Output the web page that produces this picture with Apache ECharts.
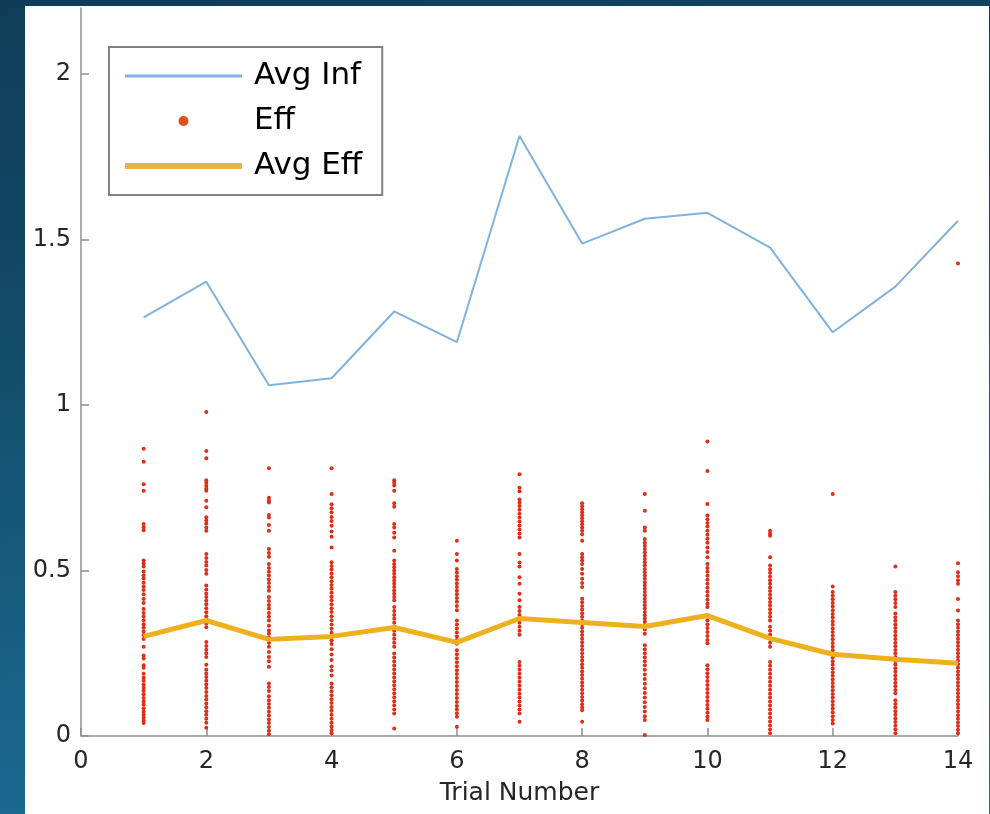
<!DOCTYPE html>
<html>
<head>
<meta charset="utf-8">
<script src="https://cdn.jsdelivr.net/npm/echarts@6/dist/echarts.min.js"></script>
<style>
  html, body { margin: 0; padding: 0; width: 990px; height: 814px; overflow: hidden; }
  body { background: linear-gradient(172deg, #0f3d58 0%, #124865 30%, #185d81 65%, #1e7199 100%); position: relative; }
  #chart { position: absolute; left: 25px; top: 6px; width: 964px; height: 808px; background: #ffffff; }
</style>
</head>
<body>
<div id="chart"></div>
<script>
// Trials on the x axis
const trials = [1, 2, 3, 4, 5, 6, 7, 8, 9, 10, 11, 12, 13, 14];

// Average influence per trial
const avgInf = [1.265, 1.373, 1.060, 1.081, 1.283, 1.190, 1.813, 1.488, 1.563, 1.581, 1.476, 1.220, 1.358, 1.557];

// Average efficiency per trial
const avgEff = [0.301, 0.349, 0.292, 0.301, 0.328, 0.283, 0.355, 0.343, 0.331, 0.364, 0.295, 0.247, 0.232, 0.220];

// Individual efficiency values, one array per trial
const eff01 = [0.868, 0.829, 0.761, 0.741, 0.641, 0.631, 0.622, 0.530, 0.521, 0.512, 0.497, 0.486, 0.476, 0.463, 0.452, 0.441, 0.428, 0.414, 0.402, 0.384, 0.372, 0.361, 0.350, 0.338, 0.327, 0.316, 0.305, 0.293, 0.270, 0.243, 0.234, 0.214, 0.206, 0.188, 0.176, 0.167, 0.156, 0.146, 0.137, 0.126, 0.115, 0.104, 0.095, 0.084, 0.073, 0.064, 0.055, 0.046, 0.039];
const eff02 = [0.979, 0.861, 0.839, 0.773, 0.765, 0.756, 0.748, 0.741, 0.711, 0.691, 0.661, 0.651, 0.642, 0.630, 0.620, 0.550, 0.538, 0.526, 0.515, 0.502, 0.490, 0.455, 0.443, 0.431, 0.420, 0.409, 0.398, 0.386, 0.374, 0.362, 0.351, 0.340, 0.329, 0.284, 0.272, 0.261, 0.250, 0.239, 0.215, 0.200, 0.189, 0.178, 0.167, 0.156, 0.145, 0.133, 0.121, 0.110, 0.098, 0.087, 0.075, 0.064, 0.052, 0.040, 0.025];
const eff03 = [0.809, 0.720, 0.712, 0.706, 0.668, 0.660, 0.638, 0.620, 0.565, 0.553, 0.542, 0.520, 0.508, 0.496, 0.485, 0.473, 0.462, 0.450, 0.439, 0.420, 0.408, 0.396, 0.385, 0.372, 0.360, 0.349, 0.333, 0.319, 0.309, 0.298, 0.282, 0.270, 0.254, 0.239, 0.226, 0.209, 0.159, 0.148, 0.136, 0.120, 0.108, 0.097, 0.085, 0.073, 0.062, 0.050, 0.039, 0.027, 0.016, 0.005];
const eff04 = [0.809, 0.731, 0.700, 0.688, 0.676, 0.662, 0.650, 0.635, 0.618, 0.602, 0.570, 0.525, 0.514, 0.503, 0.491, 0.480, 0.468, 0.456, 0.445, 0.433, 0.421, 0.410, 0.398, 0.386, 0.375, 0.362, 0.350, 0.337, 0.324, 0.312, 0.300, 0.289, 0.278, 0.262, 0.246, 0.230, 0.210, 0.198, 0.183, 0.159, 0.147, 0.135, 0.123, 0.111, 0.100, 0.088, 0.076, 0.064, 0.052, 0.040, 0.029, 0.018, 0.008];
const eff05 = [0.773, 0.765, 0.757, 0.741, 0.703, 0.693, 0.641, 0.630, 0.614, 0.600, 0.560, 0.530, 0.520, 0.510, 0.500, 0.490, 0.480, 0.470, 0.460, 0.450, 0.440, 0.430, 0.420, 0.410, 0.390, 0.378, 0.366, 0.354, 0.342, 0.330, 0.318, 0.306, 0.294, 0.282, 0.270, 0.249, 0.237, 0.225, 0.213, 0.201, 0.189, 0.177, 0.165, 0.153, 0.141, 0.129, 0.117, 0.105, 0.093, 0.080, 0.068, 0.023];
const eff06 = [0.590, 0.550, 0.530, 0.505, 0.494, 0.483, 0.472, 0.461, 0.450, 0.439, 0.428, 0.417, 0.406, 0.393, 0.380, 0.349, 0.337, 0.325, 0.313, 0.301, 0.290, 0.279, 0.259, 0.247, 0.235, 0.223, 0.211, 0.199, 0.187, 0.175, 0.163, 0.151, 0.139, 0.127, 0.115, 0.103, 0.091, 0.080, 0.069, 0.058, 0.028];
const eff07 = [0.791, 0.750, 0.740, 0.715, 0.705, 0.695, 0.684, 0.672, 0.660, 0.648, 0.636, 0.624, 0.612, 0.600, 0.550, 0.524, 0.512, 0.480, 0.460, 0.430, 0.410, 0.390, 0.378, 0.366, 0.354, 0.342, 0.330, 0.318, 0.306, 0.224, 0.212, 0.200, 0.188, 0.176, 0.164, 0.152, 0.140, 0.128, 0.116, 0.104, 0.092, 0.080, 0.068, 0.043];
const eff08 = [0.703, 0.694, 0.685, 0.676, 0.667, 0.658, 0.649, 0.640, 0.630, 0.620, 0.610, 0.590, 0.550, 0.540, 0.530, 0.520, 0.505, 0.490, 0.475, 0.462, 0.450, 0.415, 0.404, 0.393, 0.382, 0.371, 0.360, 0.349, 0.338, 0.327, 0.316, 0.305, 0.294, 0.283, 0.272, 0.261, 0.250, 0.239, 0.228, 0.217, 0.206, 0.195, 0.184, 0.173, 0.162, 0.151, 0.140, 0.129, 0.118, 0.107, 0.096, 0.086, 0.078, 0.043];
const eff09 = [0.731, 0.681, 0.630, 0.620, 0.595, 0.585, 0.575, 0.565, 0.555, 0.545, 0.535, 0.525, 0.515, 0.505, 0.495, 0.485, 0.475, 0.465, 0.455, 0.445, 0.435, 0.425, 0.415, 0.405, 0.395, 0.385, 0.375, 0.365, 0.355, 0.345, 0.335, 0.322, 0.309, 0.274, 0.262, 0.250, 0.238, 0.226, 0.214, 0.200, 0.186, 0.172, 0.158, 0.144, 0.130, 0.116, 0.102, 0.088, 0.074, 0.060, 0.048, 0.003];
const eff10 = [0.890, 0.801, 0.701, 0.666, 0.655, 0.644, 0.633, 0.620, 0.608, 0.596, 0.584, 0.570, 0.556, 0.540, 0.520, 0.508, 0.496, 0.484, 0.472, 0.460, 0.448, 0.436, 0.424, 0.412, 0.400, 0.390, 0.350, 0.338, 0.326, 0.314, 0.302, 0.290, 0.280, 0.214, 0.202, 0.190, 0.178, 0.166, 0.154, 0.142, 0.130, 0.118, 0.106, 0.094, 0.082, 0.070, 0.058, 0.048];
const eff11 = [0.620, 0.612, 0.605, 0.540, 0.515, 0.504, 0.493, 0.482, 0.471, 0.460, 0.449, 0.438, 0.427, 0.416, 0.405, 0.394, 0.383, 0.372, 0.360, 0.349, 0.330, 0.318, 0.306, 0.294, 0.282, 0.270, 0.224, 0.212, 0.200, 0.188, 0.176, 0.164, 0.152, 0.140, 0.128, 0.116, 0.104, 0.092, 0.080, 0.068, 0.056, 0.044, 0.032, 0.020, 0.008];
const eff12 = [0.731, 0.452, 0.435, 0.424, 0.413, 0.402, 0.391, 0.380, 0.369, 0.358, 0.347, 0.336, 0.325, 0.314, 0.303, 0.292, 0.281, 0.270, 0.259, 0.248, 0.237, 0.226, 0.215, 0.204, 0.193, 0.182, 0.171, 0.160, 0.149, 0.138, 0.127, 0.116, 0.105, 0.094, 0.083, 0.072, 0.060, 0.048, 0.038];
const eff13 = [0.512, 0.435, 0.424, 0.413, 0.402, 0.390, 0.370, 0.359, 0.348, 0.337, 0.326, 0.315, 0.304, 0.293, 0.282, 0.271, 0.260, 0.249, 0.238, 0.227, 0.216, 0.205, 0.194, 0.183, 0.172, 0.161, 0.150, 0.139, 0.129, 0.108, 0.097, 0.086, 0.075, 0.064, 0.053, 0.042, 0.031, 0.020, 0.008];
const eff14 = [1.428, 0.522, 0.495, 0.483, 0.471, 0.460, 0.414, 0.379, 0.349, 0.338, 0.327, 0.316, 0.305, 0.294, 0.283, 0.272, 0.261, 0.250, 0.239, 0.228, 0.217, 0.206, 0.195, 0.184, 0.173, 0.162, 0.151, 0.140, 0.129, 0.118, 0.107, 0.096, 0.085, 0.074, 0.063, 0.052, 0.041, 0.030, 0.019, 0.008];
const effByTrial = [eff01, eff02, eff03, eff04, eff05, eff06, eff07, eff08, eff09, eff10, eff11, eff12, eff13, eff14];

// Axis tick positions
const xTicks = [0, 2, 4, 6, 8, 10, 12, 14];
const yTicks = [0, 0.5, 1, 1.5, 2];

const seriesNames = ['Avg Inf', 'Eff', 'Avg Eff'];
const xAxisName = 'Trial Number';

const infPoints = trials.map((t, i) => [t, avgInf[i]]);
const avgEffPoints = trials.map((t, i) => [t, avgEff[i]]);
const effPoints = [];
effByTrial.forEach((vals, i) => vals.forEach(v => effPoints.push([trials[i], v])));

const FONT = '"DejaVu Sans", sans-serif';
const axisGrey = '#8f8f8f';
const infColor = '#80b2dd';
const effColor = '#e02e18';
const avgEffColor = '#EDB120';

const chart = echarts.init(document.getElementById('chart'), null, { renderer: 'canvas' });
chart.setOption({
  animation: false,
  backgroundColor: '#ffffff',
  textStyle: { fontFamily: FONT },
  grid: { left: 56, right: 31, top: 2, bottom: 78, containLabel: false },
  xAxis: {
    type: 'value',
    min: 0, max: 14, interval: 2,
    name: xAxisName,
    nameLocation: 'middle',
    nameGap: 45,
    nameTextStyle: { fontFamily: FONT, fontSize: 25, color: '#262626' },
    axisLine: { show: true, lineStyle: { color: axisGrey, width: 1.5 } },
    axisTick: { show: true, inside: true, length: 8, lineStyle: { color: axisGrey, width: 1.5 }, customValues: xTicks },
    axisLabel: { fontFamily: FONT, fontSize: 24, color: '#262626', margin: 14, customValues: xTicks },
    splitLine: { show: false }
  },
  yAxis: {
    type: 'value',
    min: 0, max: 2.2, interval: 0.5,
    axisLine: { show: true, lineStyle: { color: axisGrey, width: 1.5 } },
    axisTick: { show: true, inside: true, length: 8, lineStyle: { color: axisGrey, width: 1.5 }, customValues: yTicks },
    axisLabel: { fontFamily: FONT, fontSize: 24, color: '#262626', margin: 10, customValues: yTicks },
    splitLine: { show: false }
  },
  legend: {
    orient: 'vertical',
    left: 84, top: 41,
    padding: [12, 20, 12, 16],
    itemWidth: 117,
    itemHeight: 10,
    itemGap: 11,
    backgroundColor: '#ffffff',
    borderColor: '#808080',
    borderWidth: 2,
    textStyle: { fontFamily: FONT, fontSize: 31, color: '#000000', lineHeight: 34, padding: [0, 0, 0, 7] },
    data: [
      // thin bar icon for the influence line, dot for samples, thick bar for the efficiency average
      { name: seriesNames[0], icon: 'path://M0,0H117V3H0Z', itemStyle: { color: infColor } },
      { name: seriesNames[1], icon: 'circle', itemStyle: { color: '#D95319' } },
      { name: seriesNames[2], icon: 'path://M0,0H117V6H0Z', itemStyle: { color: '#e9b444' } }
    ]
  },
  series: [
    {
      name: seriesNames[0],
      type: 'line',
      data: infPoints,
      symbol: 'none',
      lineStyle: { color: infColor, width: 2 },
      itemStyle: { color: infColor },
      z: 2
    },
    {
      name: seriesNames[1],
      type: 'scatter',
      data: effPoints,
      symbol: 'circle',
      symbolSize: 4,
      itemStyle: { color: effColor, opacity: 1 },
      z: 3
    },
    {
      name: seriesNames[2],
      type: 'line',
      data: avgEffPoints,
      symbol: 'none',
      lineStyle: { color: avgEffColor, width: 5 },
      itemStyle: { color: avgEffColor },
      z: 4
    }
  ]
});
</script>
</body>
</html>
